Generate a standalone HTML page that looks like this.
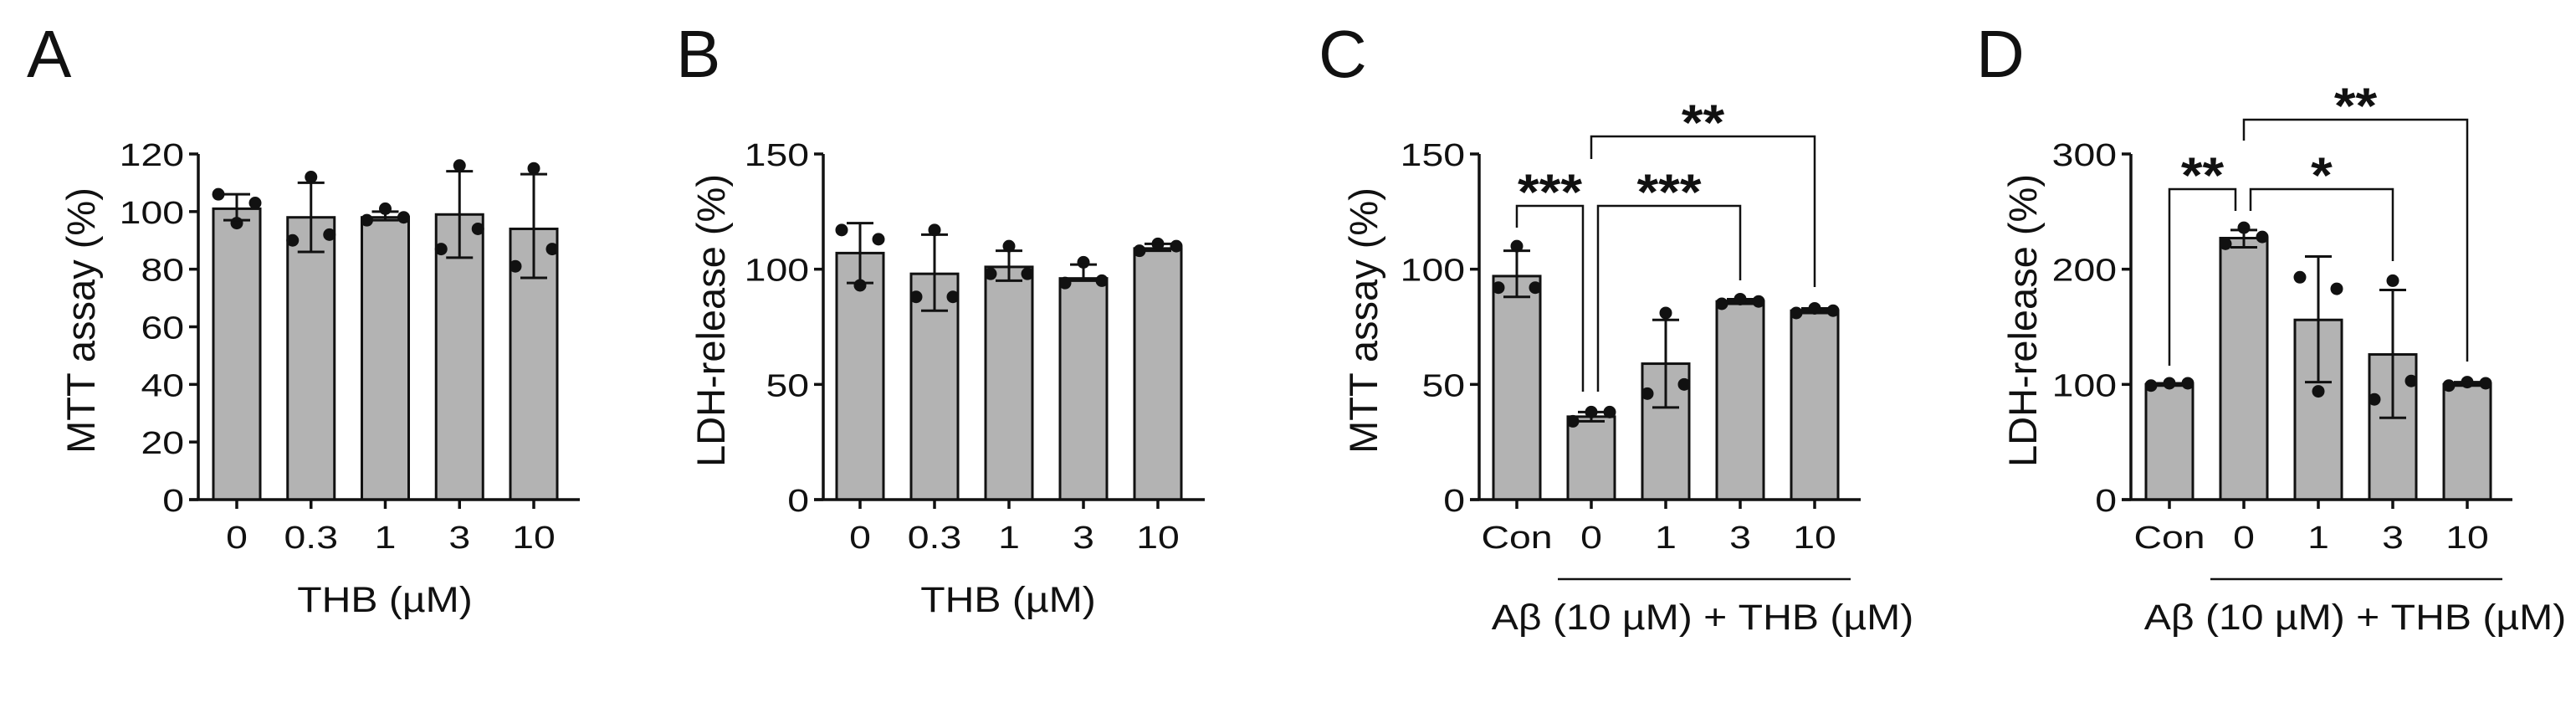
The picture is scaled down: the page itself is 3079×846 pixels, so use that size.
<!DOCTYPE html>
<html><head><meta charset="utf-8"><style>
body{margin:0;background:#fff}
svg text{font-family:"Liberation Sans",Arial,sans-serif;fill:#111}
</style></head><body>
<svg id="fig" width="3079" height="841" viewBox="0 0 3079 841" xmlns="http://www.w3.org/2000/svg"></svg>
<script>
const catsA=["0","0.3","1","3","10"];
const catsC=["Con","0","1","3","10"];
const meanA=[101,98,98,99,94];
const hiA=[106,110,100,114,113];
const loA=[97,86,97,84,77];
const ptsA=[[106,96,103],[90,112,92],[97,101,98],[87,116,94],[81,115,87]];
const meanB=[107,98,101,96,109];
const hiB=[120,115,108,102,111];
const loB=[94,82,95,95,108];
const ptsB=[[117,93,113],[88,117,88],[98,110,98],[94,103,95],[108,111,110]];
const meanC=[97,36,59,86,82];
const hiC=[108,38,78,87,83];
const loC=[88,34,40,85,81];
const ptsC=[[92,110,92],[34,38,38],[46,81,50],[85,87,86],[81,83,82]];
const meanD=[100,227,156,126,100];
const hiD=[101,234,211,182,102];
const loD=[99,219,102,71,99];
const ptsD=[[99,101,101],[222,236,228],[193,94,183],[87,190,103],[99,102,101]];
const ticksA=[0,20,40,60,80,100,120];
const ticksB=[0,50,100,150];
const ticksC=[0,50,100,150];
const ticksD=[0,100,200,300];
const sigC=[{a:0,b:1,lab:"***",top:246,la:272,lb:468},{a:1,b:3,lab:"***",top:246,la:468,lb:335},{a:1,b:4,lab:"**",top:163,la:190,lb:343}];
const sigD=[{a:0,b:1,lab:"**",top:226,la:437,lb:252},{a:1,b:3,lab:"*",top:226,la:252,lb:312},{a:1,b:4,lab:"**",top:143,la:168,lb:432}];

const NS="http://www.w3.org/2000/svg";
const svg=document.getElementById('fig');
function mk(tag,attrs,parent){const e=document.createElementNS(NS,tag);for(const k in attrs)e.setAttribute(k,attrs[k]);(parent||svg).appendChild(e);return e;}
function txt(parent,x,y,size,anchor,sx,str,extra){
  const t=mk('text',Object.assign({x:0,y:0,'font-size':size,'text-anchor':anchor,transform:`translate(${x},${y}) scale(${sx},1)`},extra||{}),parent);
  t.textContent=str;return t;
}

function panel(cfg){
  const g=mk('g',{});
  
  
  const y0=597,yTop=184;
  const ys=v=>y0-(v/cfg.max)*(y0-yTop);
  const xs=i=>cfg.x0+i*cfg.step;
  const L=mk('text',{x:cfg.lx,y:92,'font-size':80},g);L.textContent=cfg.letter;
  
  
  cfg.mean.forEach((m,i)=>{
    const r=mk('rect',{x:xs(i)-28,y:ys(m),width:56,height:y0-ys(m),fill:'#b3b3b3',stroke:'#111','stroke-width':3},g);
    
    
  });
  cfg.pts.forEach((p,i)=>{p.forEach((v,j)=>{
    const c=mk('circle',{cx:xs(i)+(j-1)*22,cy:ys(v),r:7.5,fill:'#111'},g);
    
    
  });});
  cfg.mean.forEach((m,i)=>{
    const x=xs(i);
    const e=mk('path',{d:`M${x} ${ys(cfg.hi[i])}V${ys(cfg.lo[i])}M${x-16} ${ys(cfg.hi[i])}H${x+16}M${x-16} ${ys(cfg.lo[i])}H${x+16}`,stroke:'#111','stroke-width':3,fill:'none'},g);
    
    
  });
  const ax=mk('path',{d:`M${cfg.ax} ${yTop}V${y0}M${cfg.ax-11} ${y0}H${cfg.ax+456}`,stroke:'#111','stroke-width':3.5,fill:'none'},g);
  
  
  cfg.ticks.forEach(t=>{
    mk('path',{d:`M${cfg.ax-11} ${ys(t)}H${cfg.ax}`,stroke:'#111','stroke-width':3.5},g);
    const tx=txt(g,cfg.ax-17,ys(t)+14,38,'end',1.22,t);
    
    
  });
  cfg.cats.forEach((c,i)=>{
    mk('path',{d:`M${xs(i)} ${y0}V${y0+11}`,stroke:'#111','stroke-width':3.5},g);
    const tx=txt(g,xs(i),655,38,'middle',1.22,c);
    
    
  });
  const yl=mk('text',{x:0,y:0,'font-size':47,'text-anchor':'middle',transform:`translate(${cfg.ylx},${cfg.yly}) rotate(-90)`},g);
  yl.textContent=cfg.ylabel;
  
  
  if(cfg.under){
    mk('path',{d:`M${cfg.under[0]} 692H${cfg.under[1]}`,stroke:'#111','stroke-width':2.5},g);
  }
  const xl=txt(g,cfg.xlx,cfg.xly,43,'middle',1.12,cfg.xlabel);
  
  
  (cfg.sig||[]).forEach(s=>{
    const xa=xs(s.a)+(s.a===1?(s.b===3?8:0):0), xb=xs(s.b)-(s.b===1?10:0);
    const b=mk('path',{d:`M${xa} ${s.la}V${s.top}H${xb}V${s.lb}`,stroke:'#111','stroke-width':2.5,fill:'none'},g);
    
    
    const st=txt(g,(xa+xb)/2,s.top+4,60,'middle',1.1,s.lab,{'font-weight':'bold'});
    
    
  });
}
panel({letter:'A',lx:32,ax:237,x0:283,step:88.75,max:120,ticks:ticksA,cats:catsA,mean:meanA,hi:hiA,lo:loA,pts:ptsA,ylabel:'MTT assay (%)',ylx:113,yly:383,xlabel:'THB (µM)',xlx:460,xly:731});
panel({letter:'B',lx:808,ax:984,x0:1028,step:89,max:150,ticks:ticksB,cats:catsA,mean:meanB,hi:hiB,lo:loB,pts:ptsB,ylabel:'LDH-release (%)',ylx:866,yly:383,xlabel:'THB (µM)',xlx:1205,xly:731});
panel({letter:'C',lx:1576,ax:1768,x0:1813,step:89,max:150,ticks:ticksC,cats:catsC,mean:meanC,hi:hiC,lo:loC,pts:ptsC,ylabel:'MTT assay (%)',ylx:1646,yly:383,xlabel:'Aβ (10 µM) + THB (µM)',xlx:2035,xly:752,under:[1862,2212],sig:sigC});
panel({letter:'D',lx:2362,ax:2547,x0:2593,step:89,max:300,ticks:ticksD,cats:catsC,mean:meanD,hi:hiD,lo:loD,pts:ptsD,ylabel:'LDH-release (%)',ylx:2434,yly:383,xlabel:'Aβ (10 µM) + THB (µM)',xlx:2815,xly:752,under:[2642,2991],sig:sigD});
</script>
</body></html>
